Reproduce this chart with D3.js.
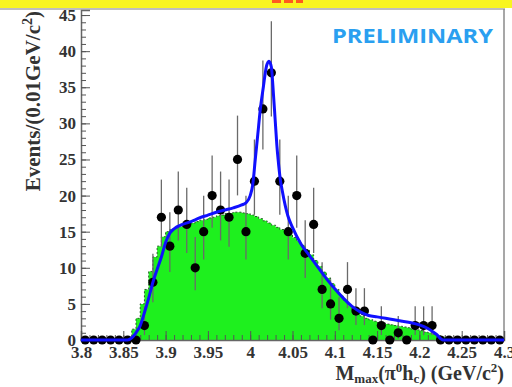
<!DOCTYPE html>
<html>
<head>
<meta charset="utf-8">
<script src="https://cdn.jsdelivr.net/npm/d3@7"></script>
<style>
  html, body { margin: 0; padding: 0; background: #fff; }
  svg { display: block; }
</style>
</head>
<body>
<svg id="chart" width="512" height="387"></svg>
<script>
// Event counts per 0.01 GeV/c^2 bin (bin centres 3.805 ... 4.295)
const binLow = 3.8;
const binWidth = 0.01;
const counts = [
  0, 0, 0, 0, 0, 0, 0, 2, 8, 17,
  13, 18, 16, 10, 15, 20, 18, 17, 25, 15,
  22, 32, 37, 22, 15, 20, 12, 16, 7, 5,
  3, 7, 4, 4, 0, 2, 0, 1, 0, 2,
  2, 2, 0, 0, 0, 0, 0, 0, 0, 0
];

// Background shape (green histogram), 0.005 GeV/c^2 bins starting at 3.855
const bgLow = 3.855;
const bgWidth = 0.005;
const bgValues = [
  0.5, 1.5, 3, 5, 7, 9.5, 11.5, 13, 14.3, 15.0,
  15.3, 15.5, 15.7, 15.9, 16.0, 16.2, 16.4, 16.6, 16.7, 16.9,
  17.0, 17.2, 17.3, 17.5, 17.6, 17.7, 17.7, 17.6, 17.5, 17.3,
  17.1, 16.8, 16.5, 16.2, 15.9, 15.6, 15.3, 15.0, 14.6, 14.2,
  13.7, 13.1, 12.5, 11.8, 11.0, 10.2, 9.4, 8.6, 7.8, 7.0,
  6.2, 5.5, 4.8, 4.2, 3.7, 3.3, 3.0, 2.8, 2.6, 2.4,
  2.3, 2.2, 2.1, 2.0, 1.9, 1.8, 1.7, 1.5, 1.4, 1.3,
  1.1, 1.0, 0.8, 0.6, 0.4
];

// Total fit (background + signal)
const fitX = [
  3.80, 3.855, 3.86, 3.865, 3.87, 3.875, 3.88, 3.885, 3.89, 3.895,
  3.90, 3.905, 3.91, 3.92, 3.93, 3.94, 3.95, 3.96, 3.97, 3.98,
  3.99, 3.995, 4.000, 4.003, 4.006, 4.009, 4.012, 4.0155, 4.019, 4.0222,
  4.025, 4.0275, 4.0295, 4.0315, 4.033, 4.0355, 4.038, 4.0445, 4.05, 4.06,
  4.07, 4.08, 4.09, 4.10, 4.11, 4.12, 4.13, 4.14, 4.15, 4.16,
  4.17, 4.18, 4.19, 4.20, 4.21, 4.22, 4.228, 4.30
];
const fitY = [
  0, 0, 0.3, 1, 2, 3.8, 5.8, 8, 9.8, 11.5,
  13.5, 14.8, 15.4, 16.0, 16.4, 16.9, 17.3, 17.7, 18.0, 18.3,
  18.7, 19.0, 20.0, 21.5, 25, 28.5, 32, 35, 37.8, 38.6,
  37.8, 34, 30.5, 27, 25, 22.3, 20.6, 17.2, 15.6, 13.3,
  11.7, 10.1, 8.5, 7.1, 5.8, 4.7, 3.9, 3.4, 3.2, 3.0,
  2.8, 2.6, 2.4, 2.1, 1.6, 0.8, 0, 0
];

const xTickLabels = ["3.8", "3.85", "3.9", "3.95", "4", "4.05", "4.1", "4.15", "4.2", "4.25", "4.3"];
const yTickLabels = ["0", "5", "10", "15", "20", "25", "30", "35", "40", "45"];

const svg = d3.select("#chart");
const W = 512, H = 387;
const plot = { left: 81, right: 504, top: 10, bottom: 340 };

const x = d3.scaleLinear().domain([3.8, 4.3]).range([plot.left, plot.right]);
const y = d3.scaleLinear().domain([0, 45.7]).range([plot.bottom, plot.top]);

// Banner strip along the top
svg.append("rect").attr("x", 0).attr("y", 0).attr("width", W).attr("height", 8).attr("fill", "#f8f520");
svg.append("line").attr("x1", 272).attr("x2", 303).attr("y1", 1.5).attr("y2", 1.5)
  .attr("stroke", "#ff5a1e").attr("stroke-width", 3).attr("stroke-dasharray", "9,3");
svg.append("line").attr("x1", 0).attr("x2", plot.right + 1).attr("y1", 9).attr("y2", 9)
  .attr("stroke", "#a8a8a8").attr("stroke-width", 1.5);

// Background histogram
const bgPts = bgValues.map((v, i) => [bgLow + i * bgWidth, v]);
bgPts.push([bgLow + bgValues.length * bgWidth, 0]);
svg.append("path")
  .datum(bgPts)
  .attr("fill", "#1ef01e")
  .attr("d", d3.area().curve(d3.curveStepAfter)
    .x(d => x(d[0])).y0(y(0)).y1(d => y(d[1])));
svg.append("path")
  .datum(bgPts)
  .attr("fill", "none")
  .attr("stroke", "#2a5a2a")
  .attr("stroke-width", 1)
  .attr("stroke-dasharray", "2,2")
  .attr("d", d3.line().curve(d3.curveStepAfter).x(d => x(d[0])).y(d => y(d[1])));

// Frame
svg.append("line").attr("x1", plot.right).attr("x2", plot.right).attr("y1", 9).attr("y2", plot.bottom)
  .attr("stroke", "#8a8a8a").attr("stroke-width", 1.5);

// Axes with inward ticks
const yMajor = yTickLabels.map(Number);
svg.append("g").attr("transform", `translate(${plot.left},0)`)
  .call(d3.axisLeft(y).tickValues(yMajor).tickFormat((d, i) => yTickLabels[i])
    .tickSize(-9).tickPadding(5));
svg.append("g").attr("transform", `translate(${plot.left},0)`)
  .call(d3.axisLeft(y).tickValues(d3.range(0, 46, 1)).tickFormat("").tickSize(-5))
  .select(".domain").remove();

const xMajor = xTickLabels.map(Number);
svg.append("g").attr("transform", `translate(0,${plot.bottom})`)
  .call(d3.axisBottom(x).tickValues(xMajor).tickFormat((d, i) => xTickLabels[i])
    .tickSize(-9).tickPadding(6));
svg.append("g").attr("transform", `translate(0,${plot.bottom})`)
  .call(d3.axisBottom(x).tickValues(d3.range(0, 51).map(i => 3.8 + i * 0.01)).tickFormat("").tickSize(-5))
  .select(".domain").remove();

svg.selectAll(".tick line").attr("stroke", "#555").attr("stroke-width", 1);
svg.selectAll(".domain").attr("stroke", "#666").attr("stroke-width", 1.5);
svg.selectAll(".tick text")
  .attr("font-family", "'Liberation Serif', 'Times New Roman', serif")
  .attr("font-size", 17)
  .attr("font-weight", "bold")
  .attr("fill", "#333");

// Data points with Poisson error bars
const pts = counts.map((n, i) => ({
  x: binLow + (i + 0.5) * binWidth,
  n,
  up: n > 0 ? 1 + Math.sqrt(n + 0.75) : 0,
  lo: n > 0 ? Math.sqrt(n - 0.25) : 0
}));
svg.append("g").selectAll("line").data(pts.filter(d => d.n > 0)).join("line")
  .attr("x1", d => x(d.x)).attr("x2", d => x(d.x))
  .attr("y1", d => y(d.n - d.lo)).attr("y2", d => y(d.n + d.up))
  .attr("stroke", "#6a6a6a").attr("stroke-width", 1.3);
svg.append("g").selectAll("circle").data(pts).join("circle")
  .attr("cx", d => x(d.x)).attr("cy", d => y(d.n)).attr("r", 4.6)
  .attr("fill", "#000");

// Fit curve
svg.append("path")
  .datum(fitX.map((v, i) => [v, fitY[i]]))
  .attr("fill", "none")
  .attr("stroke", "#1010ff")
  .attr("stroke-width", 3)
  .attr("stroke-linejoin", "round")
  .attr("d", d3.line().curve(d3.curveMonotoneX).x(d => x(d[0])).y(d => y(d[1])));

// Titles
const serif = "'Liberation Serif', 'Times New Roman', serif";
const yTitle = svg.append("text")
  .attr("transform", "translate(40,11) rotate(-90)")
  .attr("text-anchor", "end")
  .attr("font-family", serif).attr("font-weight", "bold").attr("font-size", 21)
  .attr("fill", "#333");
yTitle.append("tspan").text("Events/(0.01GeV/c");
yTitle.append("tspan").attr("font-size", 14).attr("dy", -8).text("2");
yTitle.append("tspan").attr("dy", 8).text(")");

const xTitle = svg.append("text")
  .attr("x", 504).attr("y", 380)
  .attr("text-anchor", "end")
  .attr("font-family", serif).attr("font-weight", "bold").attr("font-size", 20)
  .attr("fill", "#333");
xTitle.append("tspan").text("M");
xTitle.append("tspan").attr("font-size", 13).attr("dy", 3).text("max");
xTitle.append("tspan").attr("dy", -3).text("(π");
xTitle.append("tspan").attr("font-size", 13).attr("dy", -8).text("0");
xTitle.append("tspan").attr("dy", 8).text("h");
xTitle.append("tspan").attr("font-size", 13).attr("dy", 3).text("c");
xTitle.append("tspan").attr("dy", -3).text(") (GeV/c");
xTitle.append("tspan").attr("font-size", 13).attr("dy", -8).text("2");
xTitle.append("tspan").attr("dy", 8).text(")");

svg.append("text")
  .attr("x", 332).attr("y", 43)
  .attr("font-family", "'Open Sans', 'Noto Sans', sans-serif")
  .attr("font-weight", "bold").attr("font-size", 19)
  .attr("textLength", 161).attr("lengthAdjust", "spacingAndGlyphs")
  .attr("fill", "#2a9ff0")
  .text("PRELIMINARY");
</script>
</body>
</html>
